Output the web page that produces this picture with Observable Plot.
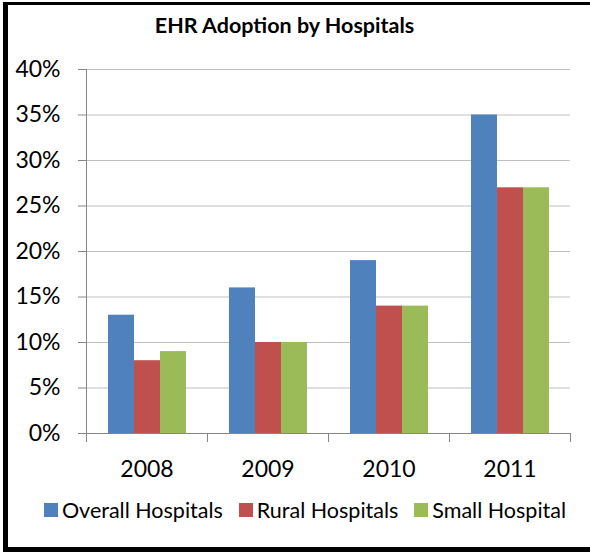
<!DOCTYPE html>
<html>
<head>
<meta charset="utf-8">
<script src="https://cdn.jsdelivr.net/npm/d3@7"></script>
<script src="https://cdn.jsdelivr.net/npm/@observablehq/plot@0.6"></script>
<style>
  html, body { margin: 0; padding: 0; background: #fff; }
  #wrap {
    position: absolute; left: 3px; top: 2px; width: 587px; height: 550px;
    box-sizing: border-box; border-left: 5px solid #000; border-top: 3px solid #000; border-bottom: 5px solid #000;
    font-family: Lato, "Open Sans", sans-serif; color: #000; overflow: hidden;
  }
  #title { height: 45px; line-height: 40px; font-size: 21.5px; font-weight: bold; text-align: center; padding-right: 29px; box-sizing: border-box; }
  #chart svg { display: block; }
  #legend { display: flex; justify-content: center; align-items: center; gap: 16px; font-size: 21.5px; padding-left: 12px; margin-top: 12px; }
  #legend .item { display: flex; align-items: center; gap: 4px; }
  #legend .sw { width: 14px; height: 14px; display: inline-block; }
</style>
</head>
<body>
<div id="wrap">
  <div id="title">EHR Adoption by Hospitals</div>
  <div id="chart"></div>
  <div id="legend"></div>
</div>
<script>
const years = ["2008", "2009", "2010", "2011"];
const series = ["Overall Hospitals", "Rural Hospitals", "Small Hospital"];
const overall = [13, 16, 19, 35];
const rural = [8, 10, 14, 27];
const small = [9, 10, 14, 27];
const colors = ["#4F81BD", "#C0504D", "#9BBB59"];
const yTicks = [0, 5, 10, 15, 20, 25, 30, 35, 40];

const values = [overall, rural, small];
const data = years.flatMap((year, i) => series.map((s, j) => ({year, series: s, value: values[j][i]})));

const W = 582, mL = 78, mR = 20;
const band = (W - mL - mR) / years.length;

const chart = Plot.plot({
  width: W,
  height: 435,
  marginLeft: mL,
  marginRight: mR,
  marginTop: 19,
  marginBottom: 52,
  style: {fontFamily: "Lato, 'Open Sans', sans-serif", color: "#000", background: "transparent"},
  fx: {domain: years, padding: 0, label: null},
  x: {domain: series, paddingInner: 0, paddingOuter: 0.766, axis: null},
  y: {domain: [0, 40], label: null},
  color: {domain: series, range: colors},
  marks: [
    Plot.gridY(yTicks, {stroke: "#bfbfbf", strokeOpacity: 1, strokeWidth: 1}),
    Plot.frame({anchor: "left", facet: "super", stroke: "#868686"}),
    Plot.axisY(yTicks, {tickFormat: d => d + "%", tickSize: 8, tickPadding: 18, fontSize: 23, stroke: "#868686", fill: "#000"}),
    Plot.barY(data, {fx: "year", x: "series", y: "value", fill: "series"}),
    Plot.ruleY([0], {stroke: "#868686"}),
    Plot.axisFx({anchor: "bottom", tickFormat: () => "", tickSize: 9, dx: -band / 2, stroke: "#868686", label: null}),
    Plot.axisFx(["2011"], {anchor: "bottom", tickFormat: () => "", tickSize: 9, dx: band / 2, stroke: "#868686", label: null}),
    Plot.axisFx({anchor: "bottom", tickSize: 0, tickPadding: 27, fontSize: 23, fill: "#000", label: null})
  ]
});
document.getElementById("chart").appendChild(chart);

const legend = document.getElementById("legend");
series.forEach((s, i) => {
  const item = document.createElement("div");
  item.className = "item";
  const sw = document.createElement("span");
  sw.className = "sw";
  sw.style.background = colors[i];
  const label = document.createElement("span");
  label.textContent = s;
  item.appendChild(sw);
  item.appendChild(label);
  legend.appendChild(item);
});
</script>
</body>
</html>
